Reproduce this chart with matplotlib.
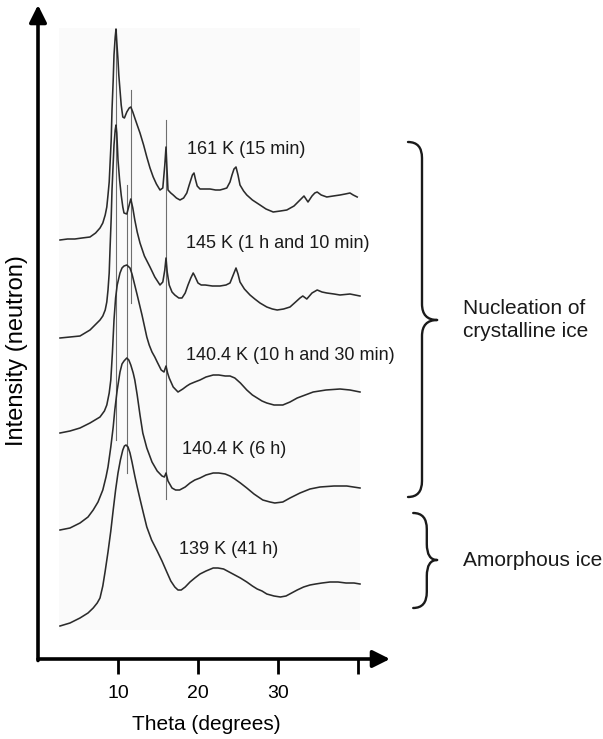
import numpy as np
import matplotlib
matplotlib.use('Agg')
from matplotlib import pyplot as plt
from matplotlib.path import Path
from matplotlib.patches import PathPatch, Rectangle

plt.rcParams['font.family'] = ['Liberation Sans', 'DejaVu Sans']

# Neutron diffraction patterns, stacked from bottom (amorphous) to top.
# Each pattern: scattering angle (degrees) and intensity above its own baseline (a.u.)
theta_139 = [2.75, 4.0, 5.25, 6.25, 6.9, 7.4, 7.75, 8.1, 8.4, 8.75, 9.1, 9.4, 9.7, 10.0,
             10.3, 10.6, 10.8, 11.0, 11.25, 11.5, 11.75, 12.1, 12.4, 12.75, 13.2, 13.6,
             14.2, 14.9, 15.5, 16.1, 16.6, 17.1, 17.5, 17.9, 18.4, 19.0, 19.6, 20.25,
             21.0, 21.9, 22.5, 23.2, 23.9, 24.6, 25.3, 26.1, 26.8, 27.4, 28.0, 28.6,
             29.5, 30.3, 31.0, 31.7, 32.4, 33.2, 34.0, 34.7, 35.5, 36.5, 37.5, 38.5,
             39.5, 40.25]
int_139 = [0, 3, 8, 13, 18, 23, 28, 40, 55, 74, 95, 116, 136, 153,
           166, 176, 180, 181, 179, 173, 164, 150, 139, 127, 112, 99,
           86, 75, 65, 54, 45, 39, 36, 36, 39, 44, 48, 52,
           55, 58, 58, 57, 54, 51, 48, 44, 40, 37, 35, 32,
           30, 29, 30, 33, 36, 39, 41, 42, 43, 44, 44, 43,
           43, 42]

theta_140_6h = [2.75, 4.0, 5.25, 6.25, 6.9, 7.5, 8.1, 8.5, 8.75, 9.1, 9.4, 9.6, 9.9,
                10.25, 10.5, 10.75, 11.1, 11.35, 11.6, 11.9, 12.1, 12.4, 12.75, 13.1,
                13.6, 14.25, 14.9, 15.5, 15.8, 16.0, 16.25, 16.75, 17.2, 17.7, 18.4,
                19.0, 19.6, 20.25, 21.0, 21.9, 22.6, 23.4, 24.0, 24.6, 25.3, 26.1,
                27.0, 28.1, 29.0, 29.6, 30.6, 31.5, 32.75, 34.0, 35.25, 37.0, 38.6, 40.25]
int_140_6h = [0, 2, 7, 13, 20, 28, 40, 53, 63, 83, 103, 120, 140,
              158, 166, 169, 172, 170, 165, 157, 150, 135, 115, 97,
              82, 68, 59, 54, 53, 57, 49, 42, 40, 40, 43,
              47, 50, 52, 55, 57, 57, 56, 54, 51, 47, 42,
              36, 30, 28, 27, 28, 32, 37, 41, 43, 44, 44, 42]

theta_140_10h = [2.75, 4.0, 5.25, 6.5, 7.75, 8.3, 8.6, 8.9, 9.1, 9.3, 9.5, 9.7, 9.9,
                 10.25, 10.5, 10.75, 11.1, 11.5, 11.75, 12.0, 12.4, 12.7, 13.0, 13.3,
                 13.6, 13.9, 14.25, 14.6, 14.9, 15.4, 15.75, 16.0, 16.2, 16.4, 16.9,
                 17.5, 18.1, 18.6, 19.0, 19.6, 20.25, 21.0, 21.9, 22.6, 23.4, 24.0,
                 24.6, 25.3, 26.1, 26.8, 27.4, 28.0, 28.6, 29.5, 30.6, 31.5, 32.4,
                 33.4, 34.4, 36.0, 37.75, 39.0, 40.25]
int_140_10h = [0, 2, 5, 10, 16, 22, 28, 40, 53, 80, 113, 135, 148,
               160, 165, 167, 168, 165, 159, 151, 138, 128, 118, 107,
               96, 88, 81, 76, 71, 63, 61, 67, 60, 55, 46,
               41, 44, 47, 49, 51, 53, 56, 58, 58, 57, 57,
               55, 50, 43, 38, 35, 32, 30, 28, 28, 31, 35,
               38, 41, 43, 44, 43, 41]

theta_145 = [2.75, 4.0, 5.25, 6.5, 7.75, 8.1, 8.4, 8.6, 8.75, 8.9, 9.0, 9.15, 9.25,
             9.4, 9.5, 9.65, 9.75, 9.85, 10.0, 10.2, 10.4, 10.6, 10.75, 11.1, 11.4,
             11.6, 11.85, 12.1, 12.4, 12.75, 13.3, 14.0, 14.6, 15.25, 15.6, 15.85,
             16.0, 16.15, 16.4, 16.75, 17.1, 17.6, 18.0, 18.4, 18.75, 19.1, 19.4,
             19.6, 20.0, 20.4, 20.9, 21.8, 22.75, 23.5, 24.0, 24.4, 24.75, 25.0,
             25.25, 25.8, 26.5, 27.1, 27.75, 28.6, 29.3, 29.9, 30.7, 31.5, 32.2,
             32.75, 33.1, 33.6, 34.25, 34.9, 35.5, 36.1, 37.0, 37.75, 39.0, 40.25]
int_145 = [0, 1, 2, 8, 18, 22, 28, 36, 48, 65, 88, 120, 148,
           175, 193, 208, 213, 205, 178, 158, 143, 131, 125, 124, 133,
           139, 130, 118, 106, 95, 82, 71, 61, 53, 56, 68,
           80, 66, 53, 46, 43, 40, 40, 45, 53, 60, 65,
           62, 55, 53, 53, 52, 52, 53, 55, 63, 70, 64,
           56, 49, 43, 39, 35, 31, 29, 28, 29, 31, 36,
           40, 42, 39, 45, 48, 46, 45, 44, 43, 44, 42]

theta_161 = [2.75, 3.7, 4.6, 5.5, 6.5, 7.2, 7.75, 8.1, 8.4, 8.6, 8.75, 8.9, 9.0,
             9.15, 9.25, 9.4, 9.5, 9.65, 9.75, 9.85, 10.0, 10.1, 10.25, 10.4, 10.6,
             10.8, 11.1, 11.4, 11.6, 11.85, 12.1, 12.4, 12.75, 13.2, 13.6, 14.0,
             14.4, 14.8, 15.25, 15.6, 15.85, 16.0, 16.1, 16.25, 16.6, 16.9, 17.3,
             17.75, 18.2, 18.6, 18.9, 19.1, 19.3, 19.5, 19.7, 19.9, 20.25, 21.0,
             21.5, 22.2, 22.75, 23.2, 23.6, 24.0, 24.25, 24.5, 24.75, 25.0, 25.25,
             25.7, 26.1, 26.8, 27.75, 28.5, 29.4, 30.3, 31.1, 32.0, 32.75, 33.25,
             33.5, 33.75, 34.0, 34.25, 34.6, 34.9, 35.4, 36.1, 36.9, 37.75, 38.4,
             39.0, 39.4, 39.9]
int_161 = [0, 1, 1, 2, 3, 7, 12, 17, 25, 33, 45, 58, 75,
           100, 130, 160, 185, 203, 211, 198, 180, 165, 150, 135, 123,
           122, 128, 132, 133, 128, 122, 115, 107, 95, 83, 72,
           63, 56, 50, 52, 75, 93, 75, 50, 47, 45, 42,
           40, 42, 47, 55, 60, 65, 67, 60, 54, 51, 51,
           51, 50, 50, 51, 52, 58, 65, 71, 73, 65, 55,
           49, 45, 40, 35, 31, 28, 29, 30, 34, 40, 44,
           41, 38, 41, 44, 47, 48, 45, 43, 44, 45, 46,
           47, 45, 43]

patterns = [(theta_139, int_139), (theta_140_6h, int_140_6h), (theta_140_10h, int_140_10h),
            (theta_145, int_145), (theta_161, int_161)]
baselines = [33, 129, 226, 321, 419]
labels = ['139 K (41 h)', '140.4 K (6 h)', '140.4 K (10 h and 30 min)',
          '145 K (1 h and 10 min)', '161 K (15 min)']
label_theta = [17.6, 18.0, 18.5, 18.5, 18.6]
label_int = [109, 209, 304, 416, 509]

# Bragg reflections of crystalline ice marked across the patterns
peak_theta = [9.75, 11.1, 11.65, 16.0]
peak_top = [629, 474, 569, 539]
peak_bottom = [219, 186, 356, 160]

# Groups of patterns marked with braces: (top, bottom, middle) in intensity units
groups = ['Nucleation of\ncrystalline ice', 'Amorphous ice']
group_top = [517, 146]
group_bottom = [162, 51]
group_mid = [339, 99]


def brace(ax, top, bottom, mid, x_end, x_body, x_tip, r=16):
    verts = [(x_end, top), (x_body, top), (x_body, top - r),
             (x_body, mid + r), (x_body, mid), (x_tip, mid),
             (x_body, mid), (x_body, mid - r),
             (x_body, bottom + r), (x_body, bottom), (x_end, bottom)]
    codes = [Path.MOVETO, Path.CURVE3, Path.CURVE3,
             Path.LINETO, Path.CURVE3, Path.CURVE3,
             Path.CURVE3, Path.CURVE3,
             Path.LINETO, Path.CURVE3, Path.CURVE3]
    ax.add_patch(PathPatch(Path(verts, codes), facecolor='none', edgecolor='#1a1a1a',
                           lw=1.7, clip_on=False, capstyle='round', joinstyle='round'))


def main():
    fig = plt.figure(figsize=(6.03, 7.39), dpi=100)
    ax = fig.add_axes([38 / 603, 80 / 739, 352 / 603, 654 / 739])
    ax.set_xlim(0, 44)
    ax.set_ylim(0, 654)
    for s in ax.spines.values():
        s.set_visible(False)

    # faint panel behind the patterns
    ax.add_patch(Rectangle((2.6, 29), 37.65, 602, facecolor='#fafafa', edgecolor='none', zorder=0))

    for (th, inten), base in zip(patterns, baselines):
        ax.plot(th, np.array(inten) + base, color='#2b2b2b', lw=1.15, zorder=3,
                solid_joinstyle='round')

    for th, top, bot in zip(peak_theta, peak_top, peak_bottom):
        ax.plot([th, th], [bot, top], color='#6e6e6e', lw=0.8, zorder=2)

    for lab, x, y in zip(labels, label_theta, label_int):
        ax.text(x, y, lab, fontsize=13, va='center', ha='left', color='#1a1a1a')

    # axes drawn as arrows
    ax.annotate('', xy=(44, 0), xytext=(0, 0), annotation_clip=False,
                arrowprops=dict(arrowstyle='-|>', lw=2.6, mutation_scale=26, color='black',
                                shrinkA=0, shrinkB=0))
    ax.annotate('', xy=(0, 654), xytext=(0, -1.5), annotation_clip=False,
                arrowprops=dict(arrowstyle='-|>', lw=2.6, mutation_scale=26, color='black',
                                shrinkA=0, shrinkB=0))

    ax.set_xticks([10, 20, 30, 40])
    ax.set_xticklabels(['10', '20', '30', ''])
    ax.tick_params(axis='x', direction='out', length=11, width=2, pad=8, labelsize=14)
    ax.set_yticks([])

    for name, top, bot, mid in zip(groups, group_top, group_bottom, group_mid):
        small = top - bot < 200
        brace(ax, top, bot, mid, 46.9 if small else 46.25, 48.6 if small else 48.0, 49.9)
        ax.text(53.1, mid, name, fontsize=15, va='center', ha='left', linespacing=1.25,
                color='#1a1a1a')

    fig.text(206 / 603, 1 - 725 / 739, 'Theta (degrees)', fontsize=15, ha='center', va='center')
    fig.text(17 / 603, 1 - 351 / 739, 'Intensity (neutron)', fontsize=17, rotation=90,
             ha='center', va='center')

    fig.savefig('out.png', dpi=100)


if __name__ == '__main__':
    main()
